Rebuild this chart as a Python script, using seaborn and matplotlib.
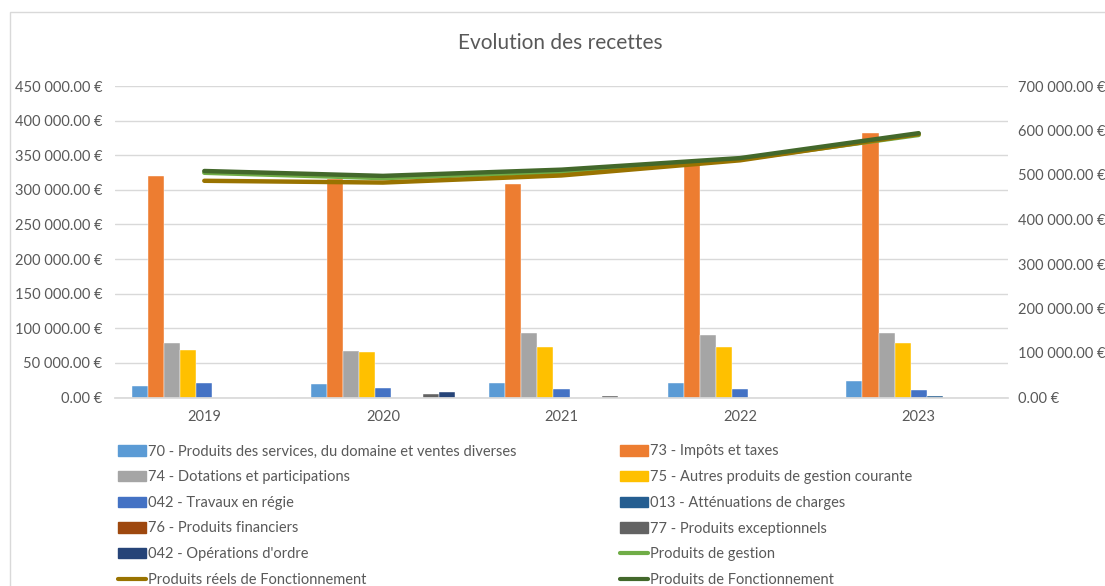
import pandas as pd
import matplotlib.pyplot as plt
import matplotlib.ticker as mticker
from matplotlib.patches import Rectangle
import seaborn as sns

years = ["2019", "2020", "2021", "2022", "2023"]

series_names = [
    "70 - Produits des services, du domaine et ventes diverses",
    "73 - Impôts et taxes",
    "74 - Dotations et participations",
    "75 - Autres produits de gestion courante",
    "042 - Travaux en régie",
    "013 - Atténuations de charges",
    "76 - Produits financiers",
    "77 - Produits exceptionnels",
    "042 - Opérations d'ordre",
]
c70 = [16600, 19000, 21300, 21300, 23800]
c73 = [320000, 316000, 308500, 339000, 382000]
c74 = [78600, 67000, 92600, 90000, 93400]
c75 = [68500, 65600, 72800, 72800, 79000]
c042_travaux = [20900, 13700, 12700, 12700, 10800]
c013 = [0, 0, 0, 0, 2000]
c76 = [0, 0, 0, 0, 0]
c77 = [0, 4600, 2000, 0, 0]
c042_ordre = [0, 8000, 0, 0, 0]

line_names = ["Produits de gestion", "Produits réels de Fonctionnement", "Produits de Fonctionnement"]
produits_gestion = [505000, 493000, 507000, 535000, 590000]
produits_reels = [487000, 483000, 499000, 533000, 592000]
produits_fonct = [509000, 498000, 512000, 538000, 594000]

bar_colors = ["#5B9BD5", "#ED7D31", "#A5A5A5", "#FFC000", "#4472C4",
              "#255E91", "#9E480E", "#636363", "#264478"]
line_colors = ["#70AD47", "#997300", "#43682B"]

TXT = "#595959"
GRID = "#D9D9D9"


def euro(v, pos=None):
    return f"{v:,.2f} €".replace(",", " ")


def main():
    bars = [c70, c73, c74, c75, c042_travaux, c013, c76, c77, c042_ordre]
    rows = []
    for name, vals in zip(series_names, bars):
        for y, v in zip(years, vals):
            rows.append({"year": y, "serie": name, "value": v})
    df = pd.DataFrame(rows)

    sns.set_theme(style="white")
    plt.rcParams["font.family"] = ["Lato", "DejaVu Sans"]

    fig = plt.figure(figsize=(11.05, 5.86), dpi=100)
    ax = fig.add_axes([115 / 1105, 1 - 397.5 / 586, 893 / 1105, 311.5 / 586])

    sns.barplot(data=df, x="year", y="value", hue="serie", hue_order=series_names,
                palette=bar_colors, saturation=1, width=0.81, ax=ax, legend=False,
                edgecolor="white", linewidth=0.3)
    ax.set_xlim(-0.5, 4.5)
    ax.set_ylim(0, 450000)
    ax.yaxis.set_major_locator(mticker.MultipleLocator(50000))
    ax.yaxis.set_major_formatter(mticker.FuncFormatter(euro))
    ax.grid(axis="y", color=GRID, lw=1)
    ax.set_axisbelow(True)
    for s in ["top", "left", "right"]:
        ax.spines[s].set_visible(False)
    ax.spines["bottom"].set_color(GRID)
    ax.set_xlabel("")
    ax.set_ylabel("")
    ax.tick_params(axis="y", length=0, pad=9, labelsize=10.5, labelcolor=TXT)
    ax.tick_params(axis="x", length=0, pad=9, labelsize=10.5, labelcolor=TXT)

    ax2 = ax.twinx()
    for name, vals, col in zip(line_names, [produits_gestion, produits_reels, produits_fonct], line_colors):
        sns.lineplot(x=list(range(len(years))), y=vals, ax=ax2, color=col, lw=3.2,
                     solid_capstyle="round")
    ax2.set_ylim(0, 700000)
    ax2.yaxis.set_major_locator(mticker.MultipleLocator(100000))
    ax2.yaxis.set_major_formatter(mticker.FuncFormatter(euro))
    ax2.tick_params(axis="y", length=0, pad=7, labelsize=10.5, labelcolor=TXT)
    for s in ["top", "left", "right", "bottom"]:
        ax2.spines[s].set_visible(False)
    ax2.set_ylabel("")
    ax2.grid(False)

    fig.text(560 / 1105, 1 - 43 / 586, "Evolution des recettes", ha="center", va="center",
             fontsize=15, color=TXT)

    # legend, filled row by row like the original
    handles = [plt.Rectangle((0, 0), 1, 1, color=c) for c in bar_colors]
    handles += [plt.Line2D([0], [0], color=c, lw=3) for c in line_colors]
    labels = series_names + line_names
    left = [(handles[i], labels[i]) for i in range(0, 12, 2)]
    right = [(handles[i], labels[i]) for i in range(1, 12, 2)]
    for items, x0 in [(left, 118), (right, 620)]:
        h, l = zip(*items)
        leg = fig.legend(h, l, loc="upper left", bbox_to_anchor=(x0 / 1105, 1 - 444.5 / 586),
                         frameon=False, fontsize=10.5, borderpad=0, borderaxespad=0,
                         handlelength=1.9, handleheight=0.7, handletextpad=0.15,
                         labelspacing=0.8)
        for t in leg.get_texts():
            t.set_color(TXT)

    fig.patches.append(Rectangle((10 / 1105, -0.05), 1.1, 1 - 12 / 586 + 0.05,
                                 transform=fig.transFigure, fill=False,
                                 edgecolor=GRID, lw=1))

    fig.savefig("out.png", dpi=100)


if __name__ == "__main__":
    main()
